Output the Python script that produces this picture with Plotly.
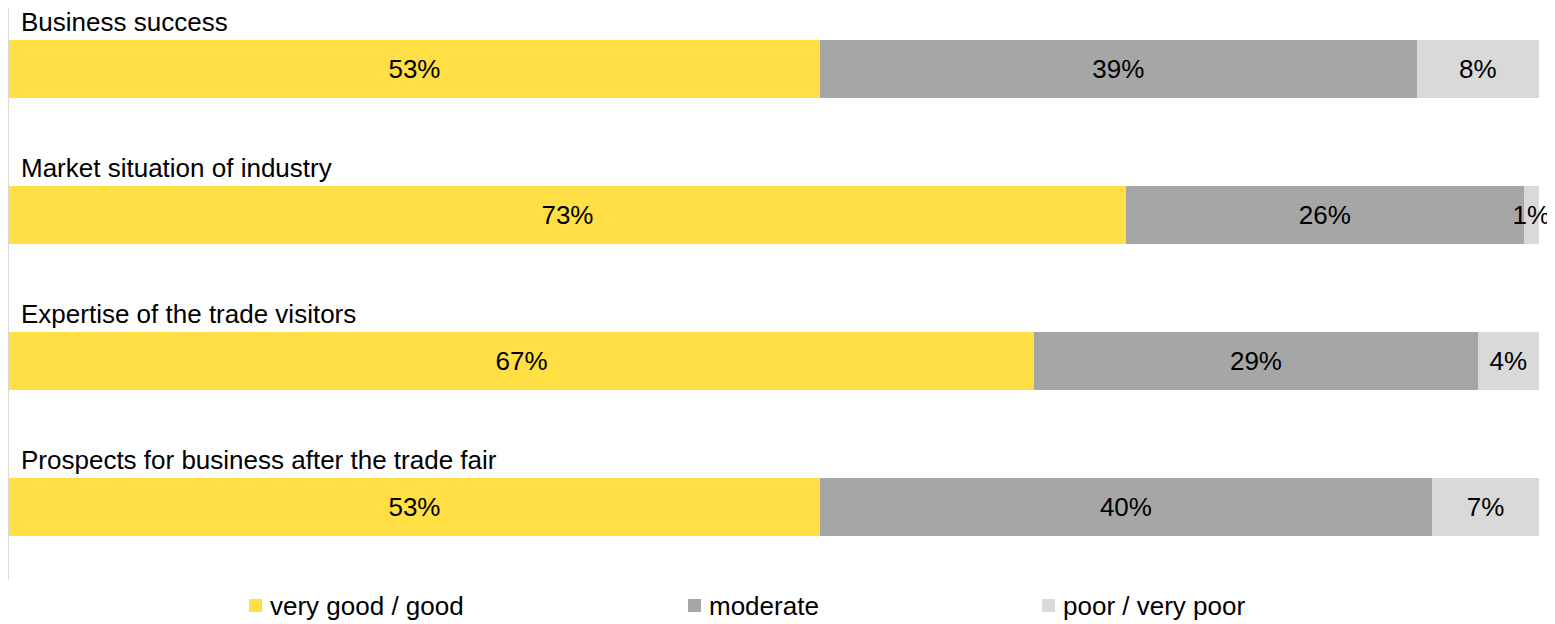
import plotly.graph_objects as go

categories = [
    "Business success",
    "Market situation of industry",
    "Expertise of the trade visitors",
    "Prospects for business after the trade fair",
]
series_names = ["very good / good", "moderate", "poor / very poor"]
very_good = [53, 73, 67, 53]
moderate = [39, 26, 29, 40]
poor = [8, 1, 4, 7]
colors = ["#FFDF43", "#A6A6A6", "#D9D9D9"]

FONT = "Liberation Sans, Arial, sans-serif"
FS = 26

# page offset of the figure inside the html body (default body margin)
OFF = 8
W, H = 1555 - OFF, 624 - OFF
ML, MR, MT, MB = 1, 16, 0, 44
PW = W - ML - MR
PH = H - MT - MB


def px_x(page_x):
    return (page_x - OFF - ML) / PW


def px_y(page_y):
    return (PH + MT - (page_y - OFF)) / PH


fig = go.Figure()
for name, vals, col in zip(series_names, [very_good, moderate, poor], colors):
    fig.add_trace(go.Bar(
        y=list(range(len(categories))),
        x=vals,
        orientation="h",
        name=name,
        marker=dict(color=col, line=dict(width=0)),
        width=0.4,
        text=[f"{v}%" for v in vals],
        textposition="inside",
        insidetextanchor="middle",
        textangle=0,
        constraintext="none",
        cliponaxis=False,
        textfont=dict(family=FONT, size=FS, color="#000000"),
        showlegend=False,
        hoverinfo="skip",
    ))

for i, c in enumerate(categories):
    fig.add_annotation(
        x=0, y=i, xref="x", yref="y",
        text=c, showarrow=False,
        xanchor="left", yanchor="middle",
        xshift=10, yshift=47,
        font=dict(family=FONT, size=FS, color="#000000"),
    )

# legend (drawn manually to match the reference layout)
legend_square_x = [249, 688, 1042]
for name, col, sx in zip(series_names, colors, legend_square_x):
    fig.add_shape(type="rect", xref="paper", yref="paper",
                  x0=px_x(sx), x1=px_x(sx + 13), y0=px_y(612), y1=px_y(599),
                  fillcolor=col, line=dict(width=0))
    fig.add_annotation(x=px_x(sx + 19), y=px_y(606), xref="paper", yref="paper",
                       text=name, showarrow=False, xanchor="left", yanchor="middle",
                       font=dict(family=FONT, size=FS, color="#000000"))

fig.update_layout(
    barmode="stack",
    width=W, height=H,
    margin=dict(l=ML, r=MR, t=MT, b=MB, autoexpand=False),
    plot_bgcolor="white", paper_bgcolor="white",
    showlegend=False,
    uniformtext=dict(minsize=FS, mode="show"),
    xaxis=dict(range=[0, 100], showgrid=False, zeroline=False, showticklabels=False,
               showline=False, fixedrange=True),
    yaxis=dict(range=[3.5, -0.418], showgrid=False, zeroline=False, showticklabels=False,
               showline=True, linecolor="#D9D9D9", linewidth=2, fixedrange=True),
)

fig.write_html("out.html")
